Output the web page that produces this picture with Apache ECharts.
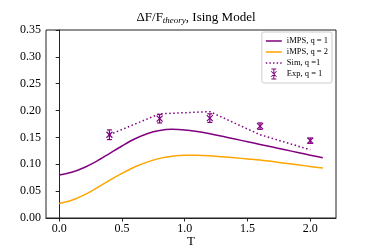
<!DOCTYPE html>
<html><head><meta charset="utf-8">
<script src="https://cdn.jsdelivr.net/npm/echarts@6/dist/echarts.min.js"></script>
<style>html,body{margin:0;padding:0;background:#fff}#c{width:374px;height:249px}</style>
</head><body><div id="c"></div>
<script>
const T = [0.0,0.1,0.2,0.3,0.4,0.5,0.6,0.7,0.8,0.9,1.0,1.1,1.2,1.3,1.4,1.5,1.6,1.7,1.8,1.9,2.0,2.1];
const imps1 = [0.080,0.085,0.094,0.106,0.120,0.134,0.147,0.157,0.163,0.165,0.164,0.161,0.157,0.152,0.147,0.142,0.137,0.132,0.127,0.122,0.117,0.112];
const imps2 = [0.027,0.033,0.043,0.056,0.070,0.083,0.095,0.104,0.111,0.115,0.117,0.117,0.116,0.114,0.112,0.110,0.108,0.105,0.102,0.099,0.096,0.093];
const simT = [0.4,0.8,1.2,1.6,2.0];
const sim1 = [0.155,0.194,0.198,0.155,0.127];
const expT = [0.4,0.8,1.2,1.6,2.0];
const exp1 = [0.155,0.185,0.186,0.171,0.144];
const expErr = [0.009,0.008,0.008,0.006,0.005];
const xTicks = [0.0,0.5,1.0,1.5,2.0];

const PURPLE = '#800080', ORANGE = '#FFA500';
const FONT = 'Liberation Serif, DejaVu Serif, serif';
const zip = (a,b)=>a.map((x,i)=>[x,b[i]]);
const BOX = 'M0,0h0.01v0.01h-0.01zM16,12h-0.01v-0.01h0.01z';
const solidIcon = 'path://M0,5.25h16v1.5h-16z' + BOX;
const dotIcon = 'path://M0,5.3h1.4v1.4h-1.4zM3.6,5.3h1.4v1.4h-1.4zM7.2,5.3h1.4v1.4h-1.4zM10.8,5.3h1.4v1.4h-1.4zM14.4,5.3h1.4v1.4h-1.4z' + BOX;
const expIcon = 'path://M7.5,0.5h1v11h-1zM5.5,0.5h5v1h-5zM5.5,10.5h5v1h-5zM5,3.6L5.7,3L11,8.4L10.3,9zM10.3,3L11,3.6L5.7,9L5,8.4z' + BOX;

const chart = echarts.init(document.getElementById('c'));
chart.setOption({
  animation:false,
  backgroundColor:'#fff',
  title:{text:'ΔF/F{sub|theory}, Ising Model', left:191, top:5, textAlign:'center',
    textStyle:{fontFamily:FONT,fontSize:13,fontWeight:'normal',color:'#000',
      rich:{sub:{fontFamily:FONT,fontSize:9,fontStyle:'italic',verticalAlign:'bottom',padding:[6,0,0,0],color:'#000'}}}},
  grid:{left:46,right:38,top:30,bottom:31,outerBoundsMode:'none',containLabel:false,
    show:true,borderColor:'#222',borderWidth:1,backgroundColor:'transparent'},
  legend:{orient:'vertical',right:42,top:32,itemWidth:16,itemHeight:12,itemGap:-1,
    padding:[3,4,3,4],borderColor:'#ccc',borderWidth:1,borderRadius:2,backgroundColor:'#fff',
    textStyle:{fontFamily:FONT,fontSize:8.5,color:'#000'},
    data:[{name:'iMPS, q = 1',icon:solidIcon,itemStyle:{color:PURPLE}},
          {name:'iMPS, q = 2',icon:solidIcon,itemStyle:{color:ORANGE}},
          {name:'Sim, q =1',icon:dotIcon,itemStyle:{color:PURPLE}},
          {name:'Exp, q = 1',icon:expIcon,itemStyle:{color:PURPLE}}]},
  xAxis:{type:'value',min:-0.105,max:2.205,
    name:'T',nameLocation:'middle',nameGap:17,nameMoveOverlap:false,
    nameTextStyle:{fontFamily:FONT,fontSize:13,color:'#000',verticalAlign:'top'},
    axisLine:{show:true,onZero:false,lineStyle:{color:'#222'}},
    axisTick:{show:true,length:3.5,customValues:xTicks,lineStyle:{color:'#222'}},
    axisLabel:{customValues:xTicks,fontFamily:FONT,fontSize:12,color:'#000',margin:5,formatter:v=>v.toFixed(1)},
    splitLine:{show:false}},
  yAxis:{type:'value',min:0,max:0.35,interval:0.05,
    axisLine:{show:true,lineStyle:{color:'#222'}},
    axisTick:{show:true,length:3.5,lineStyle:{color:'#222'}},
    axisLabel:{fontFamily:FONT,fontSize:12,color:'#000',margin:5,formatter:v=>v.toFixed(2)},
    splitLine:{show:false}},
  series:[
    {name:'iMPS, q = 1',type:'line',data:zip(T,imps1),smooth:0.3,showSymbol:false,symbol:'none',
      lineStyle:{color:PURPLE,width:1.5},itemStyle:{color:PURPLE}},
    {name:'iMPS, q = 2',type:'line',data:zip(T,imps2),smooth:0.3,showSymbol:false,symbol:'none',
      lineStyle:{color:ORANGE,width:1.5},itemStyle:{color:ORANGE}},
    {name:'Sim, q =1',type:'line',data:zip(simT,sim1),showSymbol:false,symbol:'none',
      lineStyle:{color:PURPLE,width:1.5,type:[1.5,2.5]},itemStyle:{color:PURPLE}},
    {name:'Exp, q = 1',type:'custom',data:expT.map((t,i)=>[t,exp1[i],expErr[i]]),
      itemStyle:{color:PURPLE},
      renderItem:(params,api)=>{
        const c = api.coord([api.value(0),api.value(1)]);
        const hi = api.coord([api.value(0),api.value(1)+api.value(2)]);
        const lo = api.coord([api.value(0),api.value(1)-api.value(2)]);
        const st = {stroke:PURPLE,lineWidth:1.2,fill:null};
        const cap = 2.5, m = 3;
        return {type:'group',children:[
          {type:'line',shape:{x1:c[0],y1:hi[1],x2:c[0],y2:lo[1]},style:st},
          {type:'line',shape:{x1:c[0]-cap,y1:hi[1],x2:c[0]+cap,y2:hi[1]},style:st},
          {type:'line',shape:{x1:c[0]-cap,y1:lo[1],x2:c[0]+cap,y2:lo[1]},style:st},
          {type:'line',shape:{x1:c[0]-m,y1:c[1]-m,x2:c[0]+m,y2:c[1]+m},style:st},
          {type:'line',shape:{x1:c[0]-m,y1:c[1]+m,x2:c[0]+m,y2:c[1]-m},style:st}
        ]};
      }}
  ]
});
</script></body></html>
